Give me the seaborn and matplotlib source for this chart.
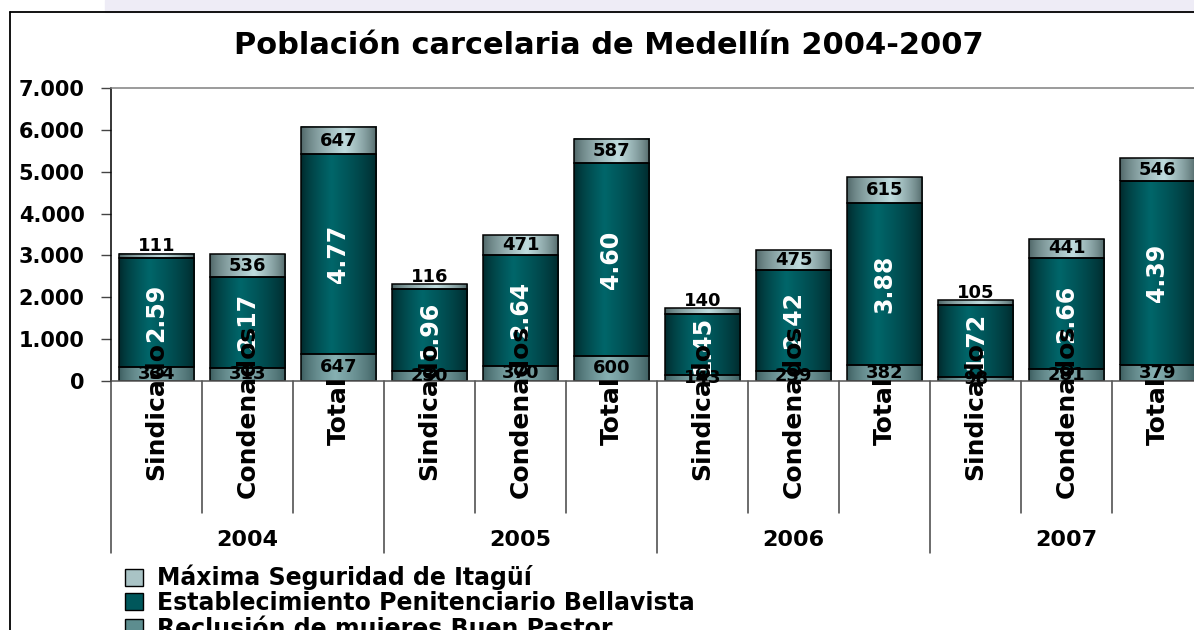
import numpy as np
import pandas as pd
import matplotlib
matplotlib.use("Agg")
import matplotlib.pyplot as plt
import seaborn as sns
from matplotlib.lines import Line2D
from matplotlib.patches import Patch, Rectangle
from matplotlib.ticker import FuncFormatter
import matplotlib.transforms as mtransforms

# Data
years = ["2004", "2005", "2006", "2007"]
groups = ["Sindicado", "Condenados", "Total"]
itagui = [111, 536, 647, 116, 471, 587, 140, 475, 615, 105, 441, 546]
bellavista = [2598, 2174, 4772, 1962, 2641, 4603, 1458, 2424, 3882, 1725, 2667, 4392]
buen_pastor = [334, 313, 647, 230, 370, 600, 143, 239, 382, 98, 281, 379]
series_names = ["Máxima Seguridad de Itagüí",
                "Establecimiento Penitenciario Bellavista",
                "Reclusión de mujeres Buen Pastor"]
title = "Población carcelaria de Medellín 2004-2007"

keys = [f"{y} {g}" for y in years for g in groups]
df = pd.DataFrame({"key": keys,
                   "group": groups * len(years),
                   "itagui": itagui,
                   "bellavista": bellavista,
                   "buen_pastor": buen_pastor})

sns.set_style("white")
plt.rcParams["font.family"] = ["DejaVu Sans"]
plt.rcParams["font.weight"] = "bold"
plt.rcParams["text.color"] = "black"
plt.rcParams["ytick.color"] = "black"
plt.rcParams["xtick.color"] = "black"

W, H = 1194, 630
fig = plt.figure(figsize=(W / 100, H / 100), dpi=100)
ax = fig.add_axes([111 / W, (H - 381) / H, 1092 / W, 293 / H])

# gradient styles: (edge colour, highlight colour, highlight position)
grad_styles = [("#3a5b5d", "#86b0b2", 0.45),   # Buen Pastor
               ("#00272a", "#00666a", 0.40),   # Bellavista
               ("#4c6364", "#bfdcde", 0.58)]   # Itagüí


def gradient(edge, light, peak, n=80):
    t = np.linspace(0, 1, n)
    w = np.where(t < peak, t / peak, (1 - t) / (1 - peak))
    w = np.clip(w, 0, 1) ** 0.7
    c0 = np.array(matplotlib.colors.to_rgb(edge))
    c1 = np.array(matplotlib.colors.to_rgb(light))
    return c0[None, :] + (c1 - c0)[None, :] * w[:, None]


bw = 0.835
bottom0 = np.zeros(len(keys))
bottom1 = np.array(buen_pastor, dtype=float)
bottom2 = bottom1 + np.array(bellavista)
sns.barplot(data=df, x="key", y="buen_pastor", order=keys, width=bw,
            errorbar=None, color="#5d8d8f", edgecolor="black", linewidth=1.1,
            bottom=bottom0, ax=ax)
sns.barplot(data=df, x="key", y="bellavista", order=keys, width=bw,
            errorbar=None, color="#00575b", edgecolor="black", linewidth=1.1,
            bottom=bottom1, ax=ax)
sns.barplot(data=df, x="key", y="itagui", order=keys, width=bw,
            errorbar=None, color="#9fb9bb", edgecolor="black", linewidth=1.1,
            bottom=bottom2, ax=ax)

# paint gradient fills into the bar patches
for cont, (edge, light, peak) in zip(ax.containers, grad_styles):
    g = gradient(edge, light, peak)
    for p in cont.patches:
        x0, y0 = p.get_x(), p.get_y()
        w, h = p.get_width(), p.get_height()
        ax.imshow(g[None, :, :], extent=[x0, x0 + w, y0, y0 + h],
                  aspect="auto", interpolation="bilinear", zorder=1.5)
        p.set_facecolor("none")
        p.set_zorder(2)

ax.set_xlim(-0.5, len(keys) - 0.5)
ax.set_ylim(0, 7000)
ax.set_yticks(np.arange(0, 7001, 1000))
ax.yaxis.set_major_formatter(FuncFormatter(lambda v, _: f"{int(v):,}".replace(",", ".")))
ax.tick_params(axis="y", direction="out", length=7, width=1, color="#444444",
               labelcolor="black", pad=12, labelsize=15, left=True)
ax.set_xticks([])
ax.set_xlabel("")
ax.set_ylabel("")
for lab in ax.get_yticklabels():
    lab.set_fontweight("bold")

ax.spines["right"].set_visible(False)
ax.spines["top"].set_color("#808080")
ax.spines["left"].set_color("black")
ax.spines["bottom"].set_color("#555555")
for s in ["top", "left", "bottom"]:
    ax.spines[s].set_linewidth(1.1)

# data labels
bp = np.array(buen_pastor)
bv = np.array(bellavista)
it = np.array(itagui)
for i in range(len(keys)):
    ax.text(i, bp[i] / 2, str(bp[i]), ha="center", va="center",
            fontsize=13, fontweight="bold", color="black", zorder=4)
    lbl = f"{bv[i]:,}".replace(",", ".")[:4]
    ax.text(i, bp[i] + bv[i] / 2, lbl, ha="center", va="center", rotation=90,
            fontsize=17, fontweight="bold", color="white", zorder=4)
    top = bp[i] + bv[i]
    if it[i] < 300:
        ax.text(i, top + it[i] - 35, str(it[i]), ha="center", va="bottom",
                fontsize=13, fontweight="bold", color="black", zorder=4)
    else:
        ax.text(i, top + it[i] / 2, str(it[i]), ha="center", va="center",
                fontsize=13, fontweight="bold", color="black", zorder=4)

# multi-level category axis
trans = mtransforms.blended_transform_factory(ax.transData, ax.transAxes)
px = 1 / 293
for i, g in enumerate(df["group"]):
    ax.text(i, -(411 - 381) * px, g, transform=trans, rotation=90,
            ha="center", va="center", fontsize=18, fontweight="bold",
            color="black", clip_on=False, zorder=5)
for k in range(len(keys) + 1):
    xb = k - 0.5
    low = -(553 - 381) * px if k % 3 == 0 else -(513 - 381) * px
    ax.plot([xb, xb], [0, low], transform=trans, color="#444444", lw=1.1,
            clip_on=False)
for j, y in enumerate(years):
    ax.text(j * 3 + 1, -(540 - 381) * px, y, transform=trans, ha="center",
            va="center", fontsize=16, fontweight="bold", color="black",
            clip_on=False)

# title
fig.text(609 / W, 1 - 46 / H, title, ha="center", va="center",
         fontsize=22, fontweight="bold", color="black")

# frame and faint header band
fig.patches.append(Rectangle((105 / W, 1 - 12 / H), 1, 12 / H,
                             transform=fig.transFigure, color="#eeecf6",
                             zorder=0))
fig.add_artist(Line2D([10 / W, 1], [1 - 12 / H, 1 - 12 / H], color="black", lw=1.3))
fig.add_artist(Line2D([10 / W, 10 / W], [0, 1 - 12 / H], color="black", lw=1.3))

# legend
handles = [Patch(facecolor="#a9c3c5", edgecolor="black", lw=1),
           Patch(facecolor="#00575b", edgecolor="black", lw=1),
           Patch(facecolor="#5d8d8f", edgecolor="black", lw=1)]
leg = fig.legend(handles, series_names, loc="upper left",
                 bbox_to_anchor=(125 / W, 1 - 565 / H), frameon=False,
                 prop={"size": 17, "weight": "bold"}, handlelength=0.75,
                 handleheight=0.75, handletextpad=0.6, labelspacing=0.02,
                 borderpad=0, borderaxespad=0)
for t in leg.get_texts():
    t.set_color("black")

fig.savefig("out.png", dpi=100)
